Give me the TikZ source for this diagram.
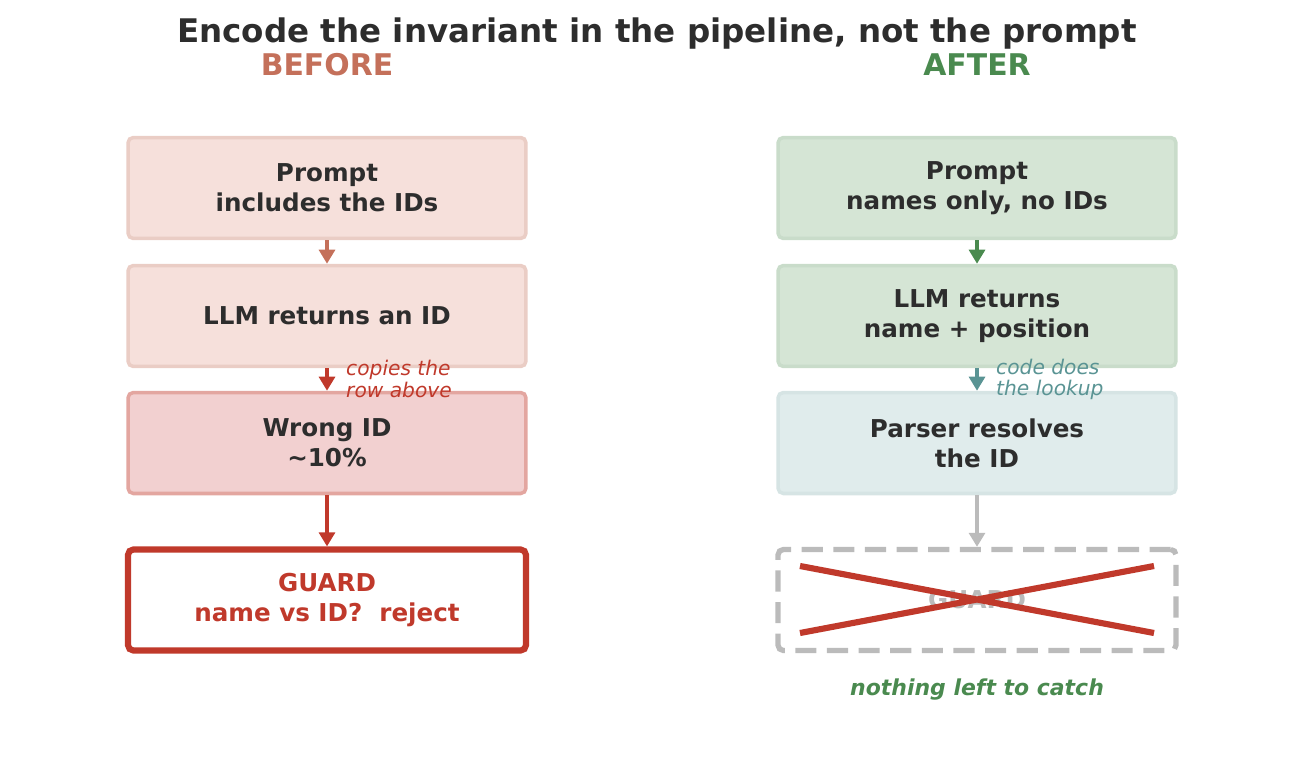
\documentclass[tikz,border=0pt]{standalone}
\usepackage{fontspec}
\setmainfont{DejaVu Sans}
\usetikzlibrary{arrows.meta,positioning}
\definecolor{ink}{HTML}{2D2D2D}
\definecolor{rust}{HTML}{C4705A}
\definecolor{brick}{HTML}{C0392B}
\definecolor{leaf}{HTML}{4A8A4F}
\definecolor{teal}{HTML}{5A9494}
\definecolor{ash}{HTML}{BBBBBB}
\tikzset{
  stage/.style={draw, line width=2pt, rounded corners=3pt, minimum width=7.96cm,
    minimum height=2.02cm, align=center, font=\fontsize{14}{17}\selectfont\bfseries, text=ink},
  flow/.style={-{Triangle[length=8pt,width=9pt]}, line width=2.5pt},
  note/.style={font=\fontsize{11.5}{12}\selectfont\itshape, align=left, anchor=west}
}
\begin{document}
\begin{tikzpicture}[x=0.02cm,y=-0.02cm]
  \useasboundingbox (0,0) rectangle (1314,760);
  \node[font=\fontsize{18.5}{20}\selectfont\bfseries, text=ink] (title) at (657,34) {Encode the invariant in the pipeline, not the prompt};
  \node[font=\fontsize{17}{20}\selectfont\bfseries, text=rust] (before) at (327,65) {BEFORE};
  \node[font=\fontsize{17}{20}\selectfont\bfseries, text=leaf] (after) at (977,65) {AFTER};
  % before column
  \node[stage, draw=rust!35, fill={rgb,255:red,246;green,224;blue,219}] (b1) at (327,188) {Prompt\\includes the IDs};
  \node[stage, draw=rust!35, fill={rgb,255:red,246;green,224;blue,219}] (b2) at (327,316) {LLM returns an ID};
  \node[stage, draw=brick!45, fill={rgb,255:red,242;green,208;blue,208}] (b3) at (327,443) {Wrong ID\\\textasciitilde10\%};
  \node[stage, draw=brick, line width=3.5pt, fill=white, text=brick] (b4) at (327,600) {GUARD\\name vs ID?~~reject};
  \draw[flow, rust] (b1) -- (b2);
  \draw[flow, brick] (b2) -- (b3);
  \draw[flow, brick] (b3) -- (b4);
  \node[note, text=brick] (bnote) at (340,379) {copies the\\row above};
  % after column
  \node[stage, draw=leaf!30, fill={rgb,255:red,213;green,229;blue,213}] (a1) at (977,188) {Prompt\\names only, no IDs};
  \node[stage, draw=leaf!30, fill={rgb,255:red,213;green,229;blue,213}] (a2) at (977,316) {LLM returns\\name + position};
  \node[stage, draw=teal!25, fill={rgb,255:red,224;green,236;blue,236}] (a3) at (977,443) {Parser resolves\\the ID};
  \node[stage, draw=ash, line width=3pt, dash pattern=on 12pt off 6pt, text=ash] (a4) at (977,600) {GUARD};
  \draw[flow, leaf] (a1) -- (a2);
  \draw[flow, teal] (a2) -- (a3);
  \draw[flow, ash] (a3) -- (a4);
  \draw[brick, line width=3.5pt] (800,566) -- (1154,633) (800,633) -- (1154,566);
  \node[note, text=teal] (anote) at (990,379) {code does\\the lookup};
  \node[font=\fontsize{12.5}{14}\selectfont\bfseries\itshape, text=leaf] (catch) at (977,690) {nothing left to catch};
\end{tikzpicture}
\end{document}
